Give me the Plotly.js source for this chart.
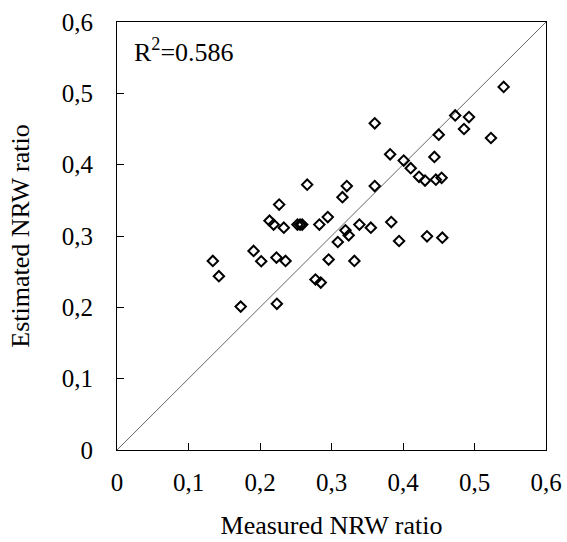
<!DOCTYPE html>
<html>
<head>
<meta charset="utf-8">
<script src="https://cdn.plot.ly/plotly-3.0.1.min.js"></script>
<style>html,body{margin:0;padding:0;background:#fff;}#chart{width:567px;height:542px;}</style>
</head>
<body>
<div id="chart"></div>
<script>
// Measured vs estimated NRW ratio
const measured = [0.134,0.1425,0.173,0.191,0.2017,0.2133,0.219,0.223,0.2236,0.2268,0.2333,0.2357,0.2524,0.256,0.259,0.266,0.2776,0.285,0.283,0.2948,0.296,0.3088,0.3153,0.3195,0.3214,0.324,0.332,0.339,0.355,0.3605,0.3605,0.382,0.3836,0.3945,0.401,0.4108,0.4224,0.4308,0.4336,0.4439,0.446,0.45,0.454,0.455,0.473,0.4853,0.4923,0.523,0.5408];
const estimated = [0.265,0.2436,0.201,0.279,0.2646,0.3214,0.316,0.2697,0.205,0.344,0.3116,0.265,0.316,0.316,0.316,0.372,0.239,0.2347,0.316,0.3265,0.267,0.2916,0.3544,0.3079,0.370,0.301,0.265,0.316,0.3116,0.458,0.370,0.4145,0.3195,0.293,0.4057,0.395,0.383,0.3777,0.2995,0.4108,0.379,0.442,0.3815,0.2976,0.469,0.45,0.4667,0.4374,0.509];
const lineX = [0, 0.6];
const lineY = [0, 0.6];
const tickVals = [0, 0.1, 0.2, 0.3, 0.4, 0.5, 0.6];
const tickText = ["0", "0,1", "0,2", "0,3", "0,4", "0,5", "0,6"];
const r2Label = "R<sup>2</sup>=0.586";

const FONT = "Liberation Serif";

const traces = [
  {x: lineX, y: lineY, mode: 'lines', type: 'scatter', line: {color: '#666', width: 1}, hoverinfo: 'skip', showlegend: false},
  {x: measured, y: estimated, mode: 'markers', type: 'scatter', showlegend: false,
   marker: {symbol: 'diamond-open', size: 8, color: '#000', line: {color: '#000', width: 2}}}
];

const axisCommon = {
  range: [0, 0.6], tickvals: tickVals, ticktext: tickText,
  ticks: 'inside', ticklen: 7, tickwidth: 1, tickcolor: '#000',
  showline: true, linecolor: '#000', linewidth: 1, mirror: true,
  showgrid: false, zeroline: false,
  tickfont: {family: FONT, size: 25, color: '#000'}
};

const layout = {
  width: 567, height: 542,
  margin: {l: 117, r: 21, t: 22, b: 92},
  paper_bgcolor: '#fff', plot_bgcolor: '#fff',
  font: {family: FONT, color: '#000'},
  xaxis: Object.assign({}, axisCommon, {
    ticklabelstandoff: 10,
    title: {text: 'Measured NRW ratio', font: {family: FONT, size: 26, color: '#000'}, standoff: 20}
  }),
  yaxis: Object.assign({}, axisCommon, {
    ticklabelstandoff: 18,
    title: {text: 'Estimated NRW ratio', font: {family: FONT, size: 26, color: '#000'}, standoff: 24}
  }),
  annotations: [{
    text: r2Label, xref: 'paper', yref: 'paper', x: 0.035, y: 0.934,
    xanchor: 'left', yanchor: 'middle', showarrow: false,
    font: {family: FONT, size: 26, color: '#000'}
  }]
};

Plotly.newPlot('chart', traces, layout, {staticPlot: true, displayModeBar: false});
</script>
</body>
</html>
